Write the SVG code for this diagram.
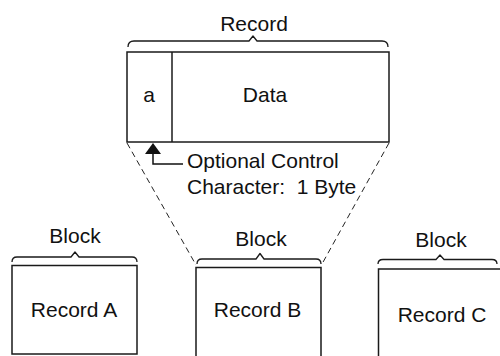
<svg xmlns="http://www.w3.org/2000/svg" width="500" height="356" viewBox="0 0 500 356">
<style>
.box{fill:none;stroke:#1a1a1a;stroke-width:1.5}
.brace{fill:none;stroke:#1a1a1a;stroke-width:1.3;stroke-linejoin:round}
.t{font-family:"Liberation Sans",Arial,sans-serif;font-size:21px;fill:#111}
.m{text-anchor:middle}
.dash{fill:none;stroke:#222;stroke-width:1;stroke-dasharray:6 4}
.lead{fill:none;stroke:#111;stroke-width:1.5}
</style>
<rect width="500" height="356" fill="#fff"/>
<g id="record">
<text class="t m" x="254" y="31">Record</text>
<path class="brace" d="M128,47 Q128,41 134,41 L249,41 L253,36 L257,41 L382,41 Q388,41 388,47"/>
<rect class="box" x="127" y="52" width="262" height="90"/>
<line class="box" x1="172" y1="52" x2="172" y2="142"/>
<text class="t m" x="149" y="102">a</text>
<text class="t m" x="265" y="102">Data</text>
</g>
<g id="control-note">
<text class="t" x="187" y="168">Optional Control</text>
<text class="t" x="187" y="194" style="white-space:pre">Character:  1 Byte</text>
</g>
<g id="block-a">
<text class="t m" x="75" y="243">Block</text>
<path class="brace" d="M12,262 Q12,257 17,257 L71,257 L75,252 L79,257 L132,257 Q137,257 137,262"/>
<rect class="box" x="12" y="265.5" width="125" height="88.5"/>
<text class="t m" x="74" y="317">Record A</text>
</g>
<g id="block-b">
<text class="t m" x="261" y="246">Block</text>
<path class="brace" d="M197,264 Q197,259 202,259 L256,259 L260,253.5 L264,259 L316,259 Q321,259 321,264"/>
<path class="box" d="M196,358 L196,267.5 L321,267.5 L321,358"/>
<text class="t m" x="257.5" y="317">Record B</text>
</g>
<g id="block-c">
<text class="t m" x="441" y="247">Block</text>
<path class="brace" d="M378,264 Q378,259.5 383,259.5 L436,259.5 L440,255 L444,259.5 L492,259.5 Q497,259.5 497,264"/>
<path class="box" d="M378.5,358 L378.5,269 L502,269"/>
<text class="t m" x="442" y="322">Record C</text>
</g>
<g id="connectors">
<line class="dash" x1="127" y1="143" x2="196" y2="265"/>
<line class="dash" x1="389" y1="143" x2="322" y2="264"/>
<polygon points="153,143 145,154 161,154" fill="#111"/>
<path class="lead" d="M153,154 L153,164 L183,164"/>
</g>
</svg>
